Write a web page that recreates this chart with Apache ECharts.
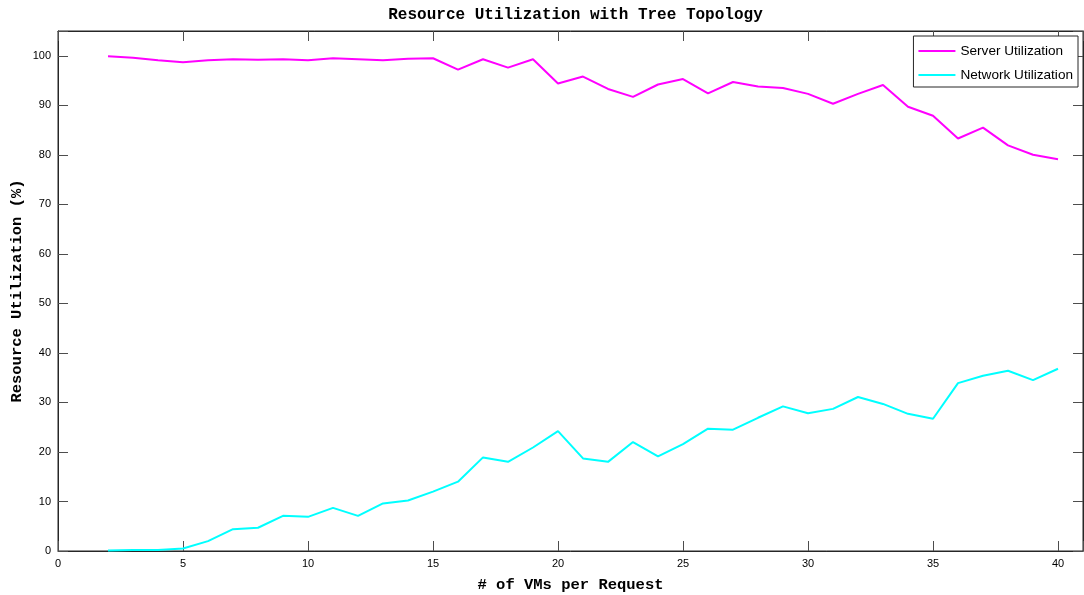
<!DOCTYPE html>
<html>
<head>
<meta charset="utf-8">
<script src="https://cdn.jsdelivr.net/npm/echarts@6/dist/echarts.min.js"></script>
<style>
  html, body { margin: 0; padding: 0; background: #fff; }
  #chart { width: 1084px; height: 595px; }
</style>
</head>
<body>
<div id="chart"></div>
<script>
// VMs per request (x values)
const vmsPerRequest = [2, 3, 4, 5, 6, 7, 8, 9, 10, 11, 12, 13, 14, 15, 16, 17, 18, 19, 20, 21,
  22, 23, 24, 25, 26, 27, 28, 29, 30, 31, 32, 33, 34, 35, 36, 37, 38, 39, 40];

// Server utilization (%)
const serverUtil = [99.9, 99.6, 99.1, 98.7, 99.1, 99.3, 99.2, 99.3, 99.1, 99.5, 99.3, 99.1, 99.4, 99.5,
  97.2, 99.3, 97.6, 99.3, 94.4, 95.8, 93.3, 91.7, 94.2, 95.3, 92.4, 94.7, 93.8, 93.5, 92.3,
  90.3, 92.3, 94.1, 89.7, 87.9, 83.3, 85.5, 81.9, 80.0, 79.1];

// Network utilization (%)
const networkUtil = [0.1, 0.2, 0.2, 0.5, 2.0, 4.4, 4.7, 7.1, 6.9, 8.7, 7.1, 9.6, 10.2, 12.0,
  14.0, 18.9, 18.0, 20.9, 24.2, 18.7, 18.0, 22.0, 19.1, 21.6, 24.7, 24.5, 26.9, 29.2, 27.8,
  28.7, 31.1, 29.7, 27.7, 26.7, 33.9, 35.4, 36.4, 34.5, 36.8];

const seriesNames = ['Server Utilization', 'Network Utilization'];
const xTicks = [0, 5, 10, 15, 20, 25, 30, 35, 40];
const yTicks = [0, 10, 20, 30, 40, 50, 60, 70, 80, 90, 100];

const pair = (xs, ys) => xs.map((x, i) => [x, ys[i]]);

const chart = echarts.init(document.getElementById('chart'), null, { renderer: 'canvas' });

const monoFamily = '"Liberation Mono", "Courier New", "DejaVu Sans Mono", monospace';
const tickFont = { fontFamily: '"Liberation Sans Narrow", "Liberation Sans", Arial, sans-serif', fontSize: 11, color: '#000' };
const axisColor = '#262626';
const tickColor = '#4d4d4d';

// Plot box: 58..1083 horizontally, 31..551 vertically
const plotLeft = 58, plotRight = 1, plotTop = 31, plotBottom = 44;
const plotCenterX = plotLeft + (1084 - plotLeft - plotRight) / 2;

const boxAxis = (extra) => Object.assign({
  axisLine: { show: true, onZero: false, lineStyle: { color: axisColor, width: 1 } },
  axisTick: { show: true, inside: true, length: 10, lineStyle: { color: tickColor } },
  splitLine: { show: false }
}, extra);

chart.setOption({
  animation: false,
  backgroundColor: '#fff',
  title: {
    text: 'Resource Utilization with Tree Topology',
    left: plotCenterX,
    textAlign: 'center',
    top: 2,
    textStyle: { fontFamily: monoFamily, fontWeight: 'bold', fontSize: 16, color: '#000' }
  },
  grid: {
    left: plotLeft, right: plotRight, top: plotTop, bottom: plotBottom,
    outerBoundsMode: 'none',
    containLabel: false,
    show: true, borderColor: axisColor, borderWidth: 1, backgroundColor: '#fff'
  },
  legend: {
    data: seriesNames,
    orient: 'vertical',
    right: 6, top: 36,
    padding: [8, 5, 5, 5],
    itemGap: 10,
    itemWidth: 37, itemHeight: 2,
    icon: 'rect',
    backgroundColor: '#fff',
    borderColor: axisColor, borderWidth: 1, borderRadius: 0,
    textStyle: { fontFamily: '"Liberation Sans", Arial, sans-serif', fontSize: 13.6, color: '#000' }
  },
  xAxis: [boxAxis({
    type: 'value', min: 0, max: 41, interval: 5,
    name: '# of VMs per Request', nameLocation: 'middle', nameGap: 26,
    nameTextStyle: { fontFamily: monoFamily, fontWeight: 'bold', fontSize: 15.5, color: '#000' },
    axisLabel: Object.assign({ margin: 7, formatter: v => (xTicks.includes(v) ? String(v) : '') }, tickFont)
  }), boxAxis({
    type: 'value', min: 0, max: 41, interval: 5, position: 'top',
    axisLabel: { show: false }
  })],
  yAxis: [boxAxis({
    type: 'value', min: 0, max: 105, interval: 10,
    name: 'Resource Utilization (%)', nameLocation: 'middle', nameGap: 33,
    nameMoveOverlap: false,
    nameTextStyle: { fontFamily: monoFamily, fontWeight: 'bold', fontSize: 15.5, color: '#000' },
    axisLabel: Object.assign({ margin: 7, formatter: v => (yTicks.includes(v) ? String(v) : '') }, tickFont)
  }), boxAxis({
    type: 'value', min: 0, max: 105, interval: 10, position: 'right',
    axisLabel: { show: false }
  })],
  series: [{
    name: seriesNames[0], type: 'line',
    data: pair(vmsPerRequest, serverUtil),
    showSymbol: false, symbol: 'none',
    itemStyle: { color: '#ff00ff' },
    lineStyle: { color: '#ff00ff', width: 2 }
  }, {
    name: seriesNames[1], type: 'line',
    data: pair(vmsPerRequest, networkUtil),
    showSymbol: false, symbol: 'none',
    itemStyle: { color: '#00ffff' },
    lineStyle: { color: '#00ffff', width: 2 }
  }]
});
</script>
</body>
</html>
